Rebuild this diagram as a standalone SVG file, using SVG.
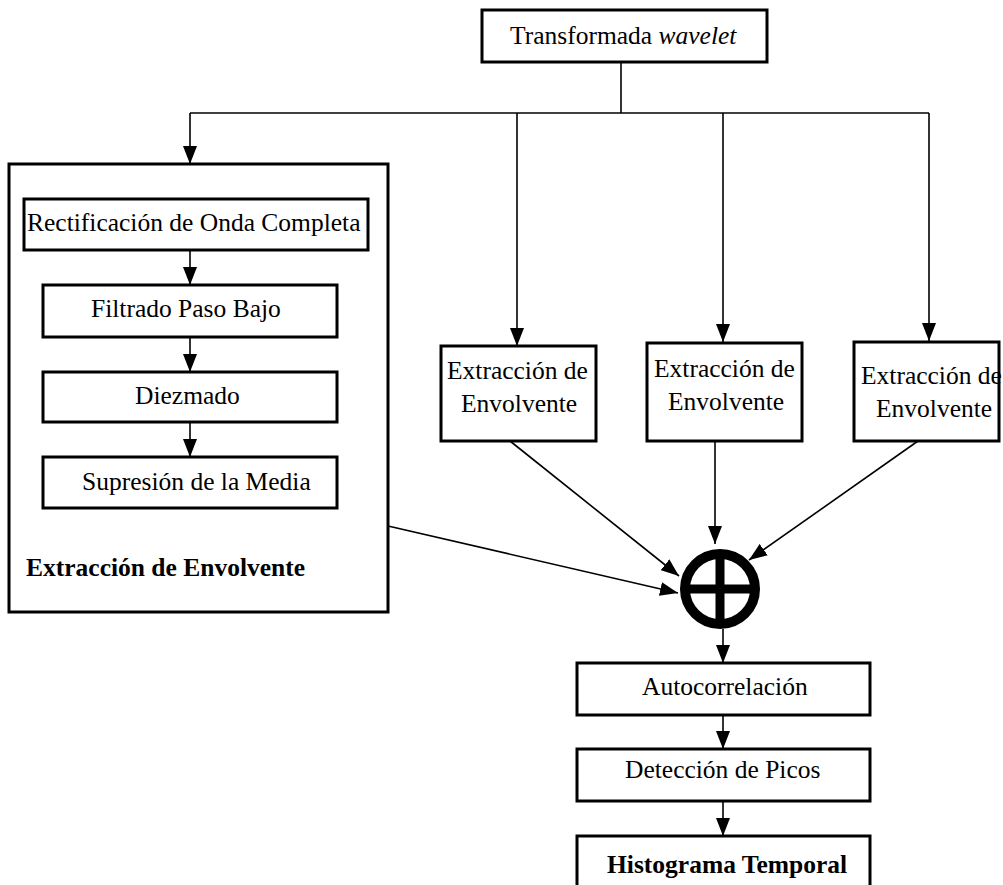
<svg xmlns="http://www.w3.org/2000/svg" width="1003" height="885" viewBox="0 0 1003 885">
  <style>
    .box { fill: #ffffff; stroke: #000000; stroke-width: 3; }
    .frame { fill: none; stroke: #000000; stroke-width: 3; }
    .lbl { font-family: "Liberation Serif", "Times New Roman", serif; font-size: 25.5px; fill: #000000; }
    .bold { font-weight: bold; }
    .wire { fill: none; stroke: #000000; stroke-width: 1.6; }
    .arr { marker-end: url(#head); }
  </style>
  <defs>
    <marker id="head" markerUnits="userSpaceOnUse" markerWidth="18" markerHeight="14" refX="18" refY="7" orient="auto">
      <path d="M0,0 L18,7 L0,14 Z" fill="#000000"/>
    </marker>
  </defs>

  <g id="wavelet">
    <rect class="box" x="482" y="10" width="285" height="52"/>
    <text class="lbl" x="510" y="44">Transformada <tspan font-style="italic">wavelet</tspan></text>
  </g>

  <g id="envelope-detail">
    <rect class="frame" x="9" y="164" width="379" height="448"/>
    <text class="lbl bold" x="26" y="576">Extracción de Envolvente</text>
  </g>

  <g id="rectification">
    <rect class="box" x="24" y="199" width="344" height="51"/>
    <text class="lbl" x="27" y="231">Rectificación de Onda Completa</text>
  </g>

  <g id="lowpass">
    <rect class="box" x="43" y="285" width="294" height="52"/>
    <text class="lbl" x="91" y="317">Filtrado Paso Bajo</text>
  </g>

  <g id="decimation">
    <rect class="box" x="43" y="372" width="294" height="50"/>
    <text class="lbl" x="135" y="404">Diezmado</text>
  </g>

  <g id="mean-removal">
    <rect class="box" x="43" y="457" width="294" height="51"/>
    <text class="lbl" x="82" y="490">Supresión de la Media</text>
  </g>

  <g id="envelope-1">
    <rect class="box" x="441" y="346" width="155" height="95"/>
    <text class="lbl" x="447" y="379">Extracción de</text>
    <text class="lbl" x="461" y="412">Envolvente</text>
  </g>

  <g id="envelope-2">
    <rect class="box" x="647" y="343" width="155" height="98"/>
    <text class="lbl" x="654" y="377">Extracción de</text>
    <text class="lbl" x="668" y="410">Envolvente</text>
  </g>

  <g id="envelope-3">
    <rect class="box" x="854" y="342" width="145" height="99"/>
    <text class="lbl" x="861" y="384">Extracción de</text>
    <text class="lbl" x="876" y="417">Envolvente</text>
  </g>

  <g id="summer">
    <circle cx="720" cy="589" r="35" fill="#ffffff" stroke="#000000" stroke-width="10"/>
    <line x1="685" y1="589" x2="755" y2="589" stroke="#000000" stroke-width="9"/>
    <line x1="720" y1="554" x2="720" y2="624" stroke="#000000" stroke-width="9"/>
  </g>

  <g id="autocorrelation">
    <rect class="box" x="577" y="663" width="293" height="52"/>
    <text class="lbl" x="642" y="695">Autocorrelación</text>
  </g>

  <g id="peak-detection">
    <rect class="box" x="577" y="749" width="293" height="52"/>
    <text class="lbl" x="625" y="778">Detección de Picos</text>
  </g>

  <g id="histogram">
    <rect class="box" x="577" y="836" width="293" height="60"/>
    <text class="lbl bold" x="607" y="873">Histograma Temporal</text>
  </g>

  <!-- connectors -->
  <g id="connectors">
    <polyline class="wire" points="621,62 621,113"/>
    <polyline class="wire" points="190,113 929,113"/>
    <line class="wire arr" x1="190" y1="113" x2="190" y2="164"/>
    <line class="wire arr" x1="517" y1="113" x2="517" y2="346"/>
    <line class="wire arr" x1="723" y1="113" x2="723" y2="342"/>
    <line class="wire arr" x1="929" y1="113" x2="929" y2="341"/>
    <line class="wire arr" x1="190" y1="250" x2="190" y2="285"/>
    <line class="wire arr" x1="190" y1="337" x2="190" y2="372"/>
    <line class="wire arr" x1="190" y1="422" x2="190" y2="457"/>
    <line class="wire arr" x1="510" y1="441" x2="679" y2="576"/>
    <line class="wire arr" x1="715" y1="441" x2="715" y2="544"/>
    <line class="wire arr" x1="918" y1="441" x2="749" y2="560"/>
    <line class="wire arr" x1="388" y1="526" x2="678" y2="593"/>
    <line class="wire arr" x1="723" y1="629" x2="723" y2="663"/>
    <line class="wire arr" x1="723" y1="715" x2="723" y2="749"/>
    <line class="wire arr" x1="723" y1="801" x2="723" y2="836"/>
  </g>
</svg>
